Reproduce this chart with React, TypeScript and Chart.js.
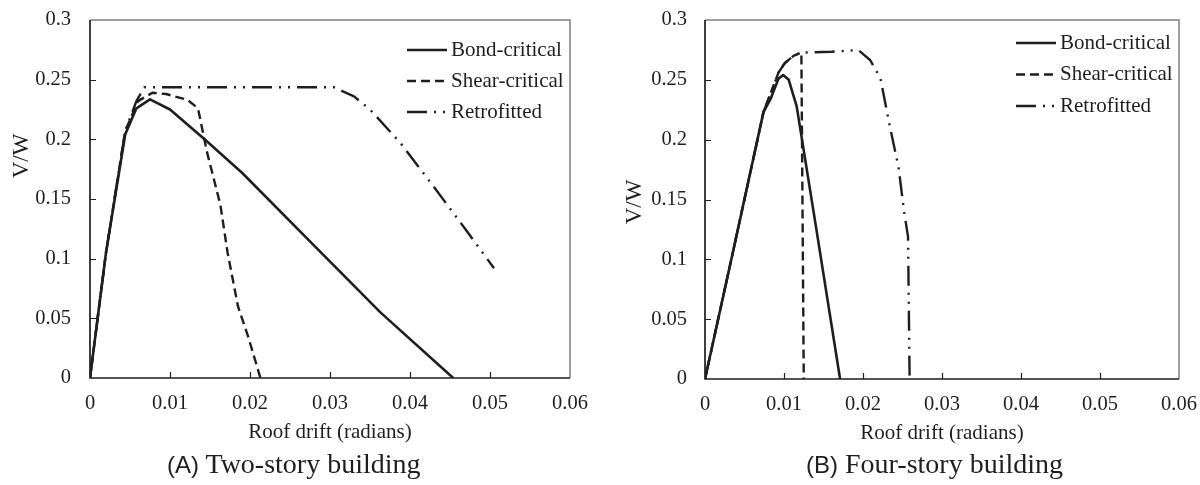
import React, { useEffect, useRef } from "react";
import { Chart, registerables } from "chart.js";

Chart.register(...registerables);

// ---------- data ----------
const SERIES_LABELS = ["Bond-critical", "Shear-critical", "Retrofitted"];
const X_TICKS = [0, 0.01, 0.02, 0.03, 0.04, 0.05, 0.06];
const Y_TICKS = [0, 0.05, 0.1, 0.15, 0.2, 0.25, 0.3];
const X_TITLE = "Roof drift (radians)";
const Y_TITLE = "V/W";

// Panel A: Two-story building
const A_BOND_X = [0, 0.002, 0.0044, 0.0058, 0.0075, 0.01, 0.0145, 0.019, 0.0283, 0.0363, 0.0454];
const A_BOND_Y = [0, 0.105, 0.204, 0.226, 0.2335, 0.225, 0.199, 0.172, 0.109, 0.055, 0];
const A_SHEAR_X = [0, 0.002, 0.0044, 0.006, 0.0078, 0.0095, 0.0122, 0.0135, 0.0146, 0.0163, 0.0172, 0.0185, 0.0198, 0.0213];
const A_SHEAR_Y = [0, 0.105, 0.207, 0.232, 0.239, 0.238, 0.233, 0.226, 0.19, 0.145, 0.105, 0.06, 0.034, 0];
const A_RETRO_X = [0, 0.002, 0.0044, 0.0058, 0.0068, 0.0305, 0.033, 0.035, 0.0388, 0.043, 0.047, 0.0505];
const A_RETRO_Y = [0, 0.105, 0.207, 0.232, 0.2436, 0.2436, 0.236, 0.225, 0.197, 0.16, 0.124, 0.092];

// Panel B: Four-story building
const B_BOND_X = [0, 0.0036, 0.0074, 0.0083, 0.0093, 0.0099, 0.0106, 0.0116, 0.0141, 0.0171];
const B_BOND_Y = [0, 0.108, 0.223, 0.234, 0.251, 0.254, 0.25, 0.228, 0.125, 0];
const B_SHEAR_X = [0, 0.0036, 0.0074, 0.0093, 0.0101, 0.0112, 0.0122, 0.0125];
const B_SHEAR_Y = [0, 0.108, 0.223, 0.256, 0.264, 0.27, 0.273, 0];
const B_RETRO_X = [0, 0.0036, 0.0074, 0.0093, 0.0101, 0.0112, 0.0122, 0.016, 0.0194, 0.0209, 0.0222, 0.0234, 0.0245, 0.0252, 0.0257, 0.0259];
const B_RETRO_Y = [0, 0.108, 0.223, 0.256, 0.264, 0.27, 0.2727, 0.2735, 0.2749, 0.2666, 0.2515, 0.211, 0.177, 0.14, 0.119, 0];

const CAPTION_A = ["(A)", "Two-story building"];
const CAPTION_B = ["(B)", "Four-story building"];

// ---------- styles ----------
const SERIF = "'Liberation Serif', 'Times New Roman', serif";
const SANS = "'Liberation Sans', Arial, sans-serif";
const INK = "#1e1e1e";
const DASHES = [[], [9, 5], [20, 7, 2, 7, 2, 7]];
const WIDTHS = [2.6, 2.4, 2.4];

const zip = (xs: number[], ys: number[]) => xs.map((x, i) => ({ x, y: ys[i] }));

const decorPlugin = {
  id: "decor",
  afterDatasetsDraw(chart: any, _args: any, opts: any) {
    const { ctx, chartArea: a } = chart;
    const xs = chart.scales.x;
    const ys = chart.scales.y;
    ctx.save();
    // frame
    ctx.lineWidth = 1.5;
    ctx.strokeStyle = "#808080";
    ctx.beginPath();
    ctx.moveTo(a.left, a.top);
    ctx.lineTo(a.right, a.top);
    ctx.lineTo(a.right, a.bottom);
    ctx.stroke();
    ctx.strokeStyle = INK;
    ctx.lineWidth = 1.7;
    ctx.beginPath();
    ctx.moveTo(a.left, a.top);
    ctx.lineTo(a.left, a.bottom);
    ctx.lineTo(a.right, a.bottom);
    ctx.stroke();
    // inward ticks
    ctx.lineWidth = 1.2;
    ctx.beginPath();
    Y_TICKS.slice(1, -1).forEach((v) => {
      const y = Math.round(ys.getPixelForValue(v)) + 0.5;
      ctx.moveTo(a.left, y);
      ctx.lineTo(a.left + 6, y);
    });
    X_TICKS.slice(1, -1).forEach((v) => {
      const x = Math.round(xs.getPixelForValue(v)) + 0.5;
      ctx.moveTo(x, a.bottom);
      ctx.lineTo(x, a.bottom - 6);
    });
    ctx.stroke();
    // axis titles
    ctx.fillStyle = INK;
    ctx.textAlign = "center";
    ctx.textBaseline = "middle";
    ctx.font = `21px ${SERIF}`;
    ctx.fillText(X_TITLE, (a.left + a.right) / 2, a.bottom + opts.xTitleOffset);
    ctx.save();
    ctx.translate(a.left - opts.yTitleOffset, opts.yTitleY);
    ctx.rotate(-Math.PI / 2);
    ctx.font = `23px ${SERIF}`;
    ctx.fillText(Y_TITLE, 0, 0);
    ctx.restore();
    // legend
    const lx = a.right - 163;
    chart.data.datasets.forEach((ds: any, i: number) => {
      const y = a.top + opts.legendTop + i * opts.legendGap;
      ctx.save();
      ctx.strokeStyle = INK;
      ctx.lineWidth = ds.borderWidth;
      ctx.setLineDash(ds.borderDash || []);
      ctx.beginPath();
      ctx.moveTo(lx, y);
      ctx.lineTo(lx + 40, y);
      ctx.stroke();
      ctx.restore();
      ctx.textAlign = "left";
      ctx.textBaseline = "middle";
      ctx.font = `21px ${SERIF}`;
      ctx.fillText(ds.label, lx + 44, y);
    });
    ctx.restore();
  },
};

function Panel(props: {
  series: { x: number[]; y: number[] }[];
  yWidth: number;
  padRight: number;
  yPad: number;
  yTitleOffset: number;
  yTitleY: number;
  legendTop: number;
  legendGap: number;
  bottom: number;
}) {
  const ref = useRef<HTMLCanvasElement>(null);
  useEffect(() => {
    const canvas = ref.current!;
    const H = 450;
    const chart = new Chart(canvas, {
      type: "line",
      data: {
        datasets: props.series.map((s, i) => ({
          label: SERIES_LABELS[i],
          data: zip(s.x, s.y),
          borderColor: INK,
          borderWidth: WIDTHS[i],
          borderDash: DASHES[i],
          borderCapStyle: "butt",
          borderJoinStyle: "round",
          pointRadius: 0,
          tension: 0,
          fill: false,
        })),
      },
      options: {
        responsive: false,
        animation: false,
        layout: { padding: { left: 0, top: 20, right: props.padRight, bottom: 0 } },
        plugins: {
          legend: { display: false },
          tooltip: { enabled: false },
          decor: {
            xTitleOffset: 54,
            yTitleOffset: props.yTitleOffset,
            yTitleY: props.yTitleY,
            legendTop: props.legendTop,
            legendGap: props.legendGap,
          },
        } as any,
        scales: {
          x: {
            type: "linear",
            min: 0,
            max: 0.06,
            grid: { display: false, drawTicks: false },
            border: { display: false },
            afterBuildTicks: (s: any) => {
              s.ticks = X_TICKS.map((v) => ({ value: v }));
            },
            afterFit: (s: any) => {
              s.height = H - props.bottom;
              s.paddingLeft = 0;
              s.paddingRight = 0;
              s.paddingTop = 0;
              s.paddingBottom = 0;
            },
            ticks: {
              padding: 13,
              color: INK,
              font: { family: SERIF, size: 20.5 },
              maxRotation: 0,
              callback: (v: any) => String(Number(Number(v).toFixed(3))),
            },
          },
          y: {
            type: "linear",
            min: 0,
            max: 0.3,
            grid: { display: false, drawTicks: false },
            border: { display: false },
            afterBuildTicks: (s: any) => {
              s.ticks = Y_TICKS.map((v) => ({ value: v }));
            },
            afterFit: (s: any) => {
              s.width = props.yWidth;
              s.paddingLeft = 0;
              s.paddingRight = 0;
              s.paddingTop = 0;
              s.paddingBottom = 0;
            },
            ticks: {
              padding: props.yPad,
              color: INK,
              font: { family: SERIF, size: 20.5 },
              callback: (v: any) => String(Number(Number(v).toFixed(3))),
            },
          },
        },
      } as any,
      plugins: [decorPlugin],
    });
    return () => chart.destroy();
  }, []);
  return <canvas ref={ref} width={600} height={450} style={{ display: "block", width: 600, height: 450 }} />;
}

function Caption(props: { parts: string[]; left: number }) {
  return (
    <div
      style={{
        position: "absolute",
        left: props.left,
        top: 447,
        whiteSpace: "nowrap",
        color: INK,
        lineHeight: "34px",
      }}
    >
      <span style={{ fontFamily: SANS, fontSize: 24 }}>{props.parts[0]}</span>
      <span style={{ fontFamily: SERIF, fontSize: 28 }}> {props.parts[1]}</span>
    </div>
  );
}

export default function App() {
  return (
    <div
      style={{
        position: "fixed",
        left: 0,
        top: 0,
        width: 1200,
        height: 485,
        background: "#fff",
        overflow: "hidden",
      }}
    >
      <div style={{ position: "absolute", left: 0, top: 0 }}>
        <Panel
          series={[
            { x: A_BOND_X, y: A_BOND_Y },
            { x: A_SHEAR_X, y: A_SHEAR_Y },
            { x: A_RETRO_X, y: A_RETRO_Y },
          ]}
          yWidth={90}
          padRight={30}
          yPad={19}
          yTitleOffset={68}
          yTitleY={156}
          legendTop={30}
          legendGap={31}
          bottom={378}
        />
      </div>
      <div style={{ position: "absolute", left: 600, top: 0 }}>
        <Panel
          series={[
            { x: B_BOND_X, y: B_BOND_Y },
            { x: B_SHEAR_X, y: B_SHEAR_Y },
            { x: B_RETRO_X, y: B_RETRO_Y },
          ]}
          yWidth={105}
          padRight={21}
          yPad={18}
          yTitleOffset={70}
          yTitleY={202}
          legendTop={23}
          legendGap={31.5}
          bottom={379}
        />
      </div>
      <Caption parts={CAPTION_A} left={167} />
      <Caption parts={CAPTION_B} left={806} />
    </div>
  );
}
